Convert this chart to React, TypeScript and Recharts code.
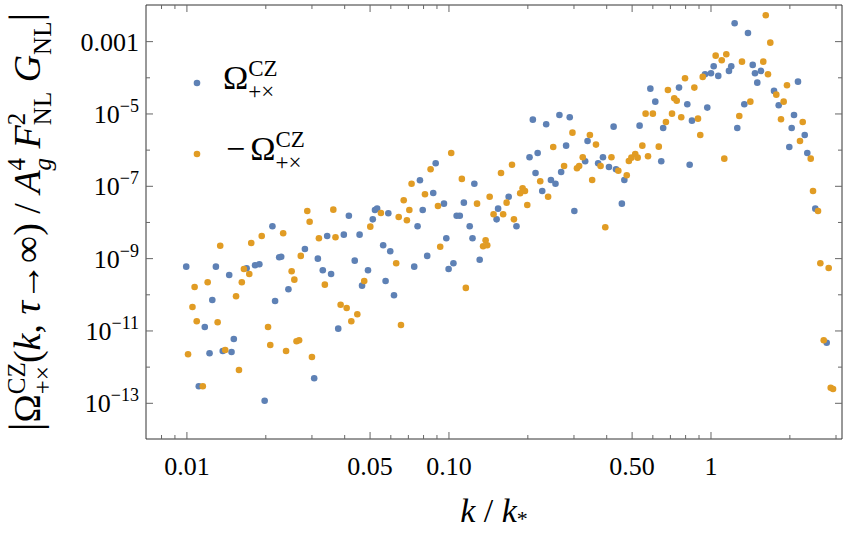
import React from 'react';
import { ScatterChart, Scatter, XAxis, YAxis, Legend, Label, ReferenceArea } from 'recharts';

// [k / k*, |Omega|], points where Omega > 0
const POSITIVE: [number, number][] = [
  [0.209, 6.97e-6], [0.235, 5.2e-6], [0.264, 9.4e-6], [0.289, 8.11e-6], [0.28, 1.33e-6],
  [0.338, 1.79e-6], [0.425, 4.46e-6], [0.534, 4.75e-6], [0.587, 5.01e-5], [0.613, 2.19e-5],
  [0.657, 4.1e-6], [1.231, 3.23e-3], [1.384, 1.74e-3], [1.024, 2.09e-4], [1.195, 2.09e-4],
  [1.171, 1.55e-4], [1.443, 2.27e-4], [0.949, 1.25e-4], [1.0, 1.34e-4], [1.066, 1.13e-4],
  [1.472, 1.34e-4], [1.552, 1.55e-4], [1.502, 7.35e-5], [0.755, 5.35e-5], [0.812, 1.86e-5],
  [0.968, 1.5e-5], [0.846, 6.53e-6], [1.34, 1.86e-5], [1.26, 4.1e-6], [1.74, 4.34e-5],
  [1.813, 1.74e-5], [2.148, 7.83e-5], [2.074, 9.4e-6], [2.032, 4.1e-6], [2.279, 2.63e-6],
  [1.99, 1.22e-6], [2.331, 8.36e-7], [0.0212, 7.85e-9], [0.0282, 1.85e-9], [0.0225, 1.09e-9],
  [0.0229, 1.13e-9], [0.0316, 9.98e-10], [0.00994, 6.0e-10], [0.0129, 6.0e-10], [0.0169, 5.41e-10],
  [0.0182, 6.55e-10], [0.0189, 6.98e-10], [0.0145, 3.53e-10], [0.0244, 1.42e-10], [0.0125, 7.19e-11],
  [0.0217, 6.75e-11], [0.033, 4.76e-10], [0.089, 4.34e-7], [0.125, 1.18e-7], [0.0775, 1.47e-7],
  [0.0871, 6.55e-8], [0.114, 3.53e-8], [0.0957, 3.31e-8], [0.0794, 2.22e-8], [0.0415, 1.54e-8],
  [0.0522, 2.22e-8], [0.0532, 2.41e-8], [0.0587, 1.79e-8], [0.0512, 1.22e-8], [0.0759, 7.85e-9],
  [0.107, 1.54e-8], [0.11, 1.54e-8], [0.152, 1.22e-8], [0.12, 7.85e-9], [0.123, 3.66e-9],
  [0.131, 9.35e-10], [0.0977, 3.66e-9], [0.0826, 1.19e-9], [0.0737, 6.0e-10], [0.104, 7.45e-10],
  [0.0997, 5.18e-10], [0.0343, 4.24e-9], [0.0397, 4.6e-9], [0.0456, 4.6e-9], [0.0561, 2.34e-9],
  [0.0597, 1.6e-9], [0.0437, 8.79e-10], [0.0491, 4.76e-10], [0.0355, 3.77e-10], [0.0466, 1.79e-10],
  [0.0573, 2.41e-10], [0.0617, 9.7e-11], [0.203, 6.35e-7], [0.218, 8.36e-7], [0.214, 2.34e-7],
  [0.245, 1.5e-7], [0.255, 1.18e-7], [0.268, 2.49e-7], [0.331, 4.92e-7], [0.371, 4.34e-7],
  [0.387, 6.35e-7], [0.408, 3.43e-7], [0.434, 2.96e-7], [0.467, 1.5e-7], [0.646, 4.92e-7],
  [0.227, 7.43e-8], [0.169, 5.16e-8], [0.154, 2.41e-8], [0.181, 7.85e-9], [0.301, 2.08e-8],
  [0.457, 3.31e-8], [0.829, 3.96e-7], [2.501, 2.41e-8], [0.0117, 1.29e-11], [0.0151, 6.0e-12],
  [0.0122, 2.42e-12], [0.0137, 2.79e-12], [0.0148, 2.62e-12], [0.0306, 4.91e-13], [0.0111, 2.95e-13],
  [0.0198, 1.18e-13], [0.0378, 1.16e-11], [2.764, 4.74e-12],
];

// [k / k*, -Omega] where Omega < 0
const NEGATIVE: [number, number][] = [
  [0.102, 8.36e-7], [0.296, 3.04e-6], [0.345, 2.63e-6], [0.364, 1.42e-6], [0.25, 1.22e-6],
  [0.563, 1.02e-5], [0.6, 1.02e-5], [0.685, 4.61e-5], [0.673, 6.01e-6], [0.547, 1.33e-6],
  [0.632, 1.25e-6], [1.618, 5.37e-3], [1.684, 9.38e-4], [1.042, 4.1e-4], [1.144, 4.49e-4],
  [1.099, 3.06e-4], [1.313, 2.8e-4], [1.583, 2.8e-4], [0.93, 1.06e-4], [1.65, 1.25e-4],
  [0.796, 9.72e-5], [0.864, 5.35e-5], [0.724, 2.72e-5], [0.74, 2.33e-5], [0.71, 1.02e-5],
  [0.77, 8.11e-6], [0.892, 7.43e-6], [0.91, 2.63e-6], [1.413, 2.19e-5], [1.282, 8.81e-6],
  [1.775, 3.42e-5], [1.894, 2.19e-5], [1.95, 6.22e-5], [1.85, 7.14e-6], [2.239, 6.01e-6],
  [2.186, 1.79e-6], [0.0288, 2.08e-8], [0.0294, 1.05e-8], [0.0319, 3.66e-9], [0.0193, 4.24e-9],
  [0.0233, 5.02e-9], [0.0176, 2.71e-9], [0.0134, 2.28e-9], [0.0272, 1.19e-9], [0.0165, 5.18e-10],
  [0.0173, 3.77e-10], [0.0251, 4.47e-10], [0.0257, 2.62e-10], [0.0107, 1.64e-10], [0.012, 2.22e-10],
  [0.0162, 2.22e-10], [0.0154, 9.1e-11], [0.0851, 2.96e-7], [0.112, 1.6e-7], [0.072, 1.18e-7],
  [0.081, 6.03e-8], [0.143, 5.16e-8], [0.128, 3.31e-8], [0.0908, 2.86e-8], [0.0672, 4.11e-8],
  [0.0706, 2.22e-8], [0.0362, 2.26e-8], [0.055, 1.83e-8], [0.0643, 1.42e-8], [0.0691, 1.15e-8],
  [0.0501, 7.66e-9], [0.148, 1.69e-8], [0.138, 3.22e-9], [0.135, 2.2e-9], [0.14, 2.34e-9],
  [0.0926, 2.14e-9], [0.116, 1.55e-10], [0.0369, 3.9e-9], [0.0629, 7.45e-10], [0.0336, 1.91e-10],
  [0.0475, 2.41e-10], [0.174, 3.96e-7], [0.158, 2.34e-7], [0.223, 1.38e-7], [0.275, 3.65e-7],
  [0.308, 3.16e-7], [0.314, 3.65e-7], [0.324, 6.35e-7], [0.379, 3.65e-7], [0.417, 6.35e-7],
  [0.443, 2.7e-7], [0.477, 2.02e-7], [0.486, 5.02e-7], [0.497, 6.19e-7], [0.514, 7.83e-7],
  [0.525, 6.19e-7], [0.575, 6.78e-7], [0.239, 5.16e-8], [0.191, 8.83e-8], [0.187, 6.43e-8],
  [0.195, 7.43e-8], [0.166, 3.53e-8], [0.199, 3.05e-8], [0.161, 1.69e-8], [0.177, 1.22e-8],
  [0.352, 1.5e-7], [0.395, 7.36e-9], [2.402, 5.81e-7], [1.124, 5.81e-7], [2.451, 7.43e-8],
  [2.561, 2.08e-8], [2.614, 7.45e-10], [2.813, 5.52e-10], [0.0105, 4.6e-11], [0.0109, 1.85e-11],
  [0.0131, 1.74e-11], [0.0204, 1.29e-11], [0.0101, 2.26e-12], [0.014, 2.98e-12], [0.0208, 4.09e-12],
  [0.0239, 2.79e-12], [0.0262, 5.19e-12], [0.0268, 5.52e-12], [0.03, 1.91e-12], [0.0158, 8.34e-13],
  [0.0115, 2.95e-13], [0.0386, 5.33e-11], [0.0407, 4.33e-11], [0.0447, 2.89e-11], [0.0424, 1.85e-11],
  [0.0656, 1.46e-11], [2.693, 5.52e-12], [2.863, 2.7e-13], [2.922, 2.48e-13],
];

const X_DOMAIN = [0.00698, 3.162];
const Y_DOMAIN = [1.03e-14, 1.03e-2];

const X_MAJOR = [0.01, 0.05, 0.1, 0.5, 1];
const X_LABELS = ['0.01', '0.05', '0.10', '0.50', '1'];
const X_MINOR = [0.008, 0.009, 0.02, 0.03, 0.04, 0.06, 0.07, 0.08, 0.09, 0.2, 0.3, 0.4, 0.6, 0.7, 0.8, 0.9, 2, 3];

const Y_MAJOR = [1e-13, 1e-11, 1e-9, 1e-7, 1e-5, 1e-3];
const Y_LABELS: [string, string][] = [
  ['10', '−13'], ['10', '−11'], ['10', '−9'], ['10', '−7'], ['10', '−5'], ['0.001', ''],
];
const Y_MINOR = [1e-12, 1e-10, 1e-8, 1e-6, 1e-4];

const X_TICKS = [...X_MAJOR, ...X_MINOR].sort((a, b) => a - b);
const Y_TICKS = [...Y_MAJOR, ...Y_MINOR].sort((a, b) => a - b);

const WIDTH = 855;
const HEIGHT = 534;
const MARGIN = { top: 5, right: 13, bottom: 0, left: 0 };
const PLOT_TOP = MARGIN.top;
const PLOT_RIGHT = WIDTH - MARGIN.right;

const BLUE = '#5e81b5';
const ORANGE = '#e19c24';
const SERIES_COLOR: Record<string, string> = { pos: BLUE, neg: ORANGE };
const FRAME = '#333';
const TICK = '#666';
const FONT = "'Liberation Serif', 'Times New Roman', serif";

const tickLen = (major: boolean) => (major ? 7 : 4);

// bottom axis tick: inward mark at the bottom and the mirrored one on the top frame
const BottomTick = ({ x, y, payload }: any) => {
  const i = X_MAJOR.indexOf(payload.value);
  const len = tickLen(i >= 0);
  return (
    <g>
      <line x1={x} x2={x} y1={y} y2={y - len} stroke={TICK} />
      <line x1={x} x2={x} y1={PLOT_TOP} y2={PLOT_TOP + len} stroke={TICK} />
      {i >= 0 && (
        <text x={x} y={y + 36} textAnchor="middle" fontFamily={FONT} fontSize={26} fill="#000">
          {X_LABELS[i]}
        </text>
      )}
    </g>
  );
};

// left axis tick: inward mark on the left and the mirrored one on the right frame
const LeftTick = ({ x, y, payload }: any) => {
  const i = Y_MAJOR.indexOf(payload.value);
  const len = tickLen(i >= 0);
  return (
    <g>
      <line x1={x} x2={x + len} y1={y} y2={y} stroke={TICK} />
      <line x1={PLOT_RIGHT} x2={PLOT_RIGHT - len} y1={y} y2={y} stroke={TICK} />
      {i >= 0 && (
        <text x={x - 7} y={y + 9} textAnchor="end" fontFamily={FONT} fontSize={26} fill="#000">
          {Y_LABELS[i][0]}
          {Y_LABELS[i][1] && (
            <tspan fontSize={18} dy={-11}>
              {Y_LABELS[i][1]}
            </tspan>
          )}
        </text>
      )}
    </g>
  );
};

const YTitle = ({ viewBox }: any) => {
  const cx = viewBox.x + 40;
  const cy = viewBox.y + viewBox.height / 2;
  const s = 25;
  return (
    <text
      transform={`translate(${cx},${cy}) rotate(-90)`}
      textAnchor="middle"
      fontFamily={FONT}
      fontSize={38}
      fill="#000"
      style={{ whiteSpace: 'pre' }}
    >
      <tspan fontSize={44}>|</tspan>
      <tspan>Ω</tspan>
      <tspan fontSize={s} dy={-15}>CZ</tspan>
      <tspan fontSize={s} dx={-32} dy={26}>+×</tspan>
      <tspan dx={3} dy={-11}>(</tspan>
      <tspan fontStyle="italic">k</tspan>
      <tspan>, </tspan>
      <tspan fontStyle="italic">τ</tspan>
      <tspan>→∞) / </tspan>
      <tspan fontStyle="italic">A</tspan>
      <tspan fontSize={s} dy={-15}>4</tspan>
      <tspan fontSize={s} fontStyle="italic" dx={-12.5} dy={26}>g</tspan>
      <tspan dy={-11}> </tspan>
      <tspan fontStyle="italic">F</tspan>
      <tspan fontSize={s} dy={-15}>2</tspan>
      <tspan fontSize={s} dx={-12.5} dy={26}>NL</tspan>
      <tspan dy={-11}> </tspan>
      <tspan fontStyle="italic">G</tspan>
      <tspan fontSize={s} dy={11}>NL</tspan>
      <tspan fontSize={44} dy={-11}>|</tspan>
    </text>
  );
};

const XTitle = ({ viewBox }: any) => (
  <text
    x={viewBox.x + viewBox.width / 2}
    y={viewBox.y + 83}
    textAnchor="middle"
    fontFamily={FONT}
    fontSize={34}
    fill="#000"
    style={{ whiteSpace: 'pre' }}
  >
    <tspan fontStyle="italic">k</tspan>
    <tspan> / </tspan>
    <tspan fontStyle="italic">k</tspan>
    <tspan fontSize={22} dy={4}>*</tspan>
  </text>
);

const LegendBox = ({ payload }: any) => {
  const entries = [...(payload || [])].sort((a: any, b: any) =>
    a.value === 'pos' ? -1 : b.value === 'pos' ? 1 : 0,
  );
  return (
    <svg width={170} height={130}>
      {entries.map((entry: any, i: number) => {
        const cy = 33 + i * 71;
        const neg = entry.value === 'neg';
        return (
          <g key={entry.value}>
            <circle cx={17} cy={cy} r={3.3} fill={SERIES_COLOR[entry.value]} />
            <text x={neg ? 46 : 43} y={cy + 6} fontFamily={FONT} fontSize={34} fill="#000">
              {neg && <tspan>−</tspan>}
              <tspan dx={neg ? 5 : 0}>Ω</tspan>
              <tspan fontSize={23} dy={-13}>CZ</tspan>
              <tspan fontSize={23} dx={-29.4} dy={23}>+×</tspan>
            </text>
          </g>
        );
      })}
    </svg>
  );
};

const dot = (props: any) => <circle cx={props.cx} cy={props.cy} r={3.3} fill={props.fill} />;

const posData = POSITIVE.map(([k, v]) => ({ k, v }));
const negData = NEGATIVE.map(([k, v]) => ({ k, v }));

export default function App() {
  return (
    <div style={{ position: 'absolute', left: 0, top: 0, background: '#fff' }}>
      <ScatterChart width={WIDTH} height={HEIGHT} margin={MARGIN}>
        <XAxis
          type="number"
          dataKey="k"
          scale="log"
          domain={X_DOMAIN}
          allowDataOverflow
          ticks={X_TICKS}
          interval={0}
          height={95}
          axisLine={false}
          tickLine={false}
          tickSize={0}
          tickMargin={0}
          tick={<BottomTick />}
        >
          <Label content={(p: any) => <XTitle {...p} />} />
        </XAxis>
        <YAxis
          type="number"
          dataKey="v"
          scale="log"
          domain={Y_DOMAIN}
          allowDataOverflow
          ticks={Y_TICKS}
          interval={0}
          width={146}
          axisLine={false}
          tickLine={false}
          tickSize={0}
          tickMargin={0}
          tick={<LeftTick />}
        >
          <Label content={(p: any) => <YTitle {...p} />} />
        </YAxis>
        {/* frame around the plot area */}
        <ReferenceArea
          x1={X_DOMAIN[0]}
          x2={X_DOMAIN[1]}
          y1={Y_DOMAIN[0]}
          y2={Y_DOMAIN[1]}
          fill="none"
          stroke={FRAME}
          strokeWidth={1}
          ifOverflow="visible"
        />
        <Scatter name="pos" data={posData} fill={BLUE} shape={dot} isAnimationActive={false} />
        <Scatter name="neg" data={negData} fill={ORANGE} shape={dot} isAnimationActive={false} />
        <Legend
          layout="vertical"
          align="center"
          verticalAlign="middle"
          content={(p: any) => <LegendBox {...p} />}
          wrapperStyle={{ left: 180, top: 50, width: 170, height: 130 }}
        />
      </ScatterChart>
    </div>
  );
}
